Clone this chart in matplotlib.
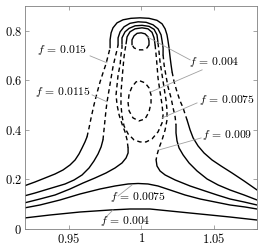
import matplotlib
matplotlib.use("Agg")
import matplotlib.pyplot as plt

plt.rcParams['mathtext.fontset'] = 'cm'
plt.rcParams['font.family'] = ['DejaVu Serif']

# ---- f = 0.015 (outer) ----
f015_left_x = [0.9193, 0.9269, 0.9338, 0.9407, 0.9462, 0.9510, 0.9545, 0.9572, 0.9593, 0.9613, 0.9627]
f015_left_y = [0.1737, 0.1899, 0.2060, 0.2222, 0.2384, 0.2586, 0.2788, 0.3030, 0.3272, 0.3515, 0.3717]
f015_ldash_x = [0.9627, 0.9641, 0.9655, 0.9675, 0.9696, 0.9717, 0.9737, 0.9758, 0.9772, 0.9786]
f015_ldash_y = [0.3717, 0.4080, 0.4484, 0.5010, 0.5494, 0.5939, 0.6302, 0.6666, 0.6989, 0.7312]
f015_top_x = [0.9786, 0.9786, 0.9793, 0.9806, 0.9834, 0.9875, 0.9930, 0.9992, 1.0054, 1.0109,
              1.0144, 1.0165, 1.0178, 1.0185, 1.0192, 1.0199, 1.0206, 1.0213]
f015_top_y = [0.7312, 0.7636, 0.7918, 0.8120, 0.8322, 0.8444, 0.8504, 0.8524, 0.8504, 0.8424,
              0.8282, 0.8080, 0.7838, 0.7595, 0.7312, 0.6949, 0.6626, 0.6343]
f015_rdash_x = [1.0213, 1.0227, 1.0247, 1.0268, 1.0289, 1.0302, 1.0316]
f015_rdash_y = [0.6343, 0.5939, 0.5535, 0.5171, 0.4888, 0.4646, 0.4404]
f015_right_x = [1.0316, 1.0337, 1.0358, 1.0392, 1.0433, 1.0488, 1.0550, 1.0626, 1.0709, 1.0798]
f015_right_y = [0.4404, 0.4000, 0.3676, 0.3353, 0.3070, 0.2788, 0.2545, 0.2262, 0.1939, 0.1576]

# ---- f = 0.0115 ----
f0115_left_x = [0.9193, 0.9269, 0.9338, 0.9407, 0.9476, 0.9538, 0.9593, 0.9641, 0.9675, 0.9703, 0.9724, 0.9737]
f0115_left_y = [0.1333, 0.1454, 0.1576, 0.1697, 0.1818, 0.1980, 0.2182, 0.2464, 0.2747, 0.3030, 0.3313, 0.3596]
f0115_ldash_x = [0.9737, 0.9744, 0.9751, 0.9758, 0.9765, 0.9779, 0.9793, 0.9806, 0.9820, 0.9834, 0.9841]
f0115_ldash_y = [0.3596, 0.4000, 0.4404, 0.4808, 0.5131, 0.5616, 0.6100, 0.6545, 0.6908, 0.7232, 0.7434]
f0115_top_x = [0.9841, 0.9841, 0.9855, 0.9882, 0.9923, 0.9979, 1.0034, 1.0082, 1.0116, 1.0137, 1.0144, 1.0151, 1.0151]
f0115_top_y = [0.7434, 0.7716, 0.7959, 0.8161, 0.8302, 0.8363, 0.8343, 0.8242, 0.8080, 0.7838, 0.7595, 0.7312, 0.7030]
f0115_rdash_x = [1.0151, 1.0158, 1.0171, 1.0185, 1.0206, 1.0220, 1.0234, 1.0240]
f0115_rdash_y = [0.7030, 0.6626, 0.6181, 0.5737, 0.5292, 0.4888, 0.4525, 0.4202]
f0115_right_x = [1.0240, 1.0240, 1.0247, 1.0261, 1.0289, 1.0330, 1.0385, 1.0454, 1.0530, 1.0612, 1.0709, 1.0798]
f0115_right_y = [0.4202, 0.3878, 0.3555, 0.3272, 0.2990, 0.2666, 0.2343, 0.2020, 0.1778, 0.1576, 0.1374, 0.1172]

# ---- f = 0.009 ----
f009_left_x = [0.9193, 0.9303, 0.9407, 0.9510, 0.9600, 0.9682, 0.9758, 0.9820, 0.9868, 0.9896, 0.9910, 0.9910]
f009_left_y = [0.1050, 0.1212, 0.1374, 0.1616, 0.1858, 0.2060, 0.2262, 0.2464, 0.2666, 0.2868, 0.3070, 0.3272]
f009_ldash_x = [0.9910, 0.9903, 0.9889, 0.9868, 0.9848, 0.9834, 0.9827, 0.9834, 0.9841, 0.9855, 0.9861, 0.9868, 0.9868]
f009_ldash_y = [0.3272, 0.3596, 0.3919, 0.4242, 0.4606, 0.5010, 0.5414, 0.5818, 0.6222, 0.6626, 0.7030, 0.7312, 0.7474]
f009_top_x = [0.9868, 0.9868, 0.9889, 0.9917, 0.9958, 1.0006, 1.0054, 1.0089, 1.0109, 1.0116]
f009_top_y = [0.7474, 0.7716, 0.7959, 0.8100, 0.8201, 0.8221, 0.8181, 0.8060, 0.7838, 0.7514]
f009_rdash_x = [1.0116, 1.0123, 1.0130, 1.0144, 1.0158, 1.0171, 1.0178, 1.0178, 1.0165, 1.0144, 1.0123, 1.0109, 1.0103]
f009_rdash_y = [0.7514, 0.7151, 0.6747, 0.6222, 0.5696, 0.5212, 0.4808, 0.4404, 0.4000, 0.3596, 0.3272, 0.2990, 0.2788]
f009_right_x = [1.0103, 1.0109, 1.0130, 1.0165, 1.0234, 1.0337, 1.0440, 1.0523, 1.0612, 1.0709, 1.0798]
f009_right_y = [0.2788, 0.2545, 0.2343, 0.2182, 0.1980, 0.1737, 0.1535, 0.1374, 0.1212, 0.1091, 0.0970]

# ---- f = 0.0075 ----
f0075_top_x = [0.9896, 0.9903, 0.9923, 0.9958, 1.0006, 1.0047, 1.0075, 1.0089, 1.0096]
f0075_top_y = [0.7474, 0.7757, 0.7959, 0.8080, 0.8120, 0.8080, 0.7939, 0.7716, 0.7434]
f0075_loop_x = [1.0096, 1.0103, 1.0109, 1.0116, 1.0130, 1.0144, 1.0151, 1.0144, 1.0116, 1.0075, 1.0034, 0.9992,
                0.9951, 0.9910, 0.9882, 0.9868, 0.9861, 0.9861, 0.9868, 0.9875, 0.9882, 0.9889, 0.9896]
f0075_loop_y = [0.7434, 0.7030, 0.6626, 0.6100, 0.5535, 0.5010, 0.4606, 0.4282, 0.3919, 0.3636, 0.3515, 0.3515,
                0.3596, 0.3838, 0.4161, 0.4565, 0.5010, 0.5494, 0.6020, 0.6504, 0.6949, 0.7232, 0.7474]
f0075_low_x = [0.9193, 0.9303, 0.9441, 0.9579, 0.9717, 0.9820, 0.9910, 0.9979, 1.0047, 1.0116, 1.0199,
               1.0302, 1.0406, 1.0509, 1.0612, 1.0716, 1.0798]
f0075_low_y = [0.0848, 0.0970, 0.1172, 0.1414, 0.1616, 0.1737, 0.1818, 0.1838, 0.1818, 0.1737, 0.1576,
               0.1374, 0.1212, 0.1091, 0.0970, 0.0889, 0.0808]

# ---- f = 0.004 ----
f004_cap_x = [0.9937, 0.9937, 0.9951, 0.9972, 1.0000, 1.0027, 1.0047, 1.0054, 1.0054]
f004_cap_y = [0.7434, 0.7636, 0.7797, 0.7898, 0.7918, 0.7878, 0.7757, 0.7595, 0.7434]
f004_capdash_x = [1.0054, 1.0041, 1.0013, 0.9979, 0.9951, 0.9937]
f004_capdash_y = [0.7434, 0.7312, 0.7232, 0.7232, 0.7312, 0.7434]
f004_egg_x = [0.9992, 1.0027, 1.0054, 1.0068, 1.0068, 1.0054, 1.0027, 0.9985, 0.9944, 0.9917, 0.9910,
              0.9917, 0.9937, 0.9965, 0.9992]
f004_egg_y = [0.5979, 0.5898, 0.5696, 0.5414, 0.5090, 0.4727, 0.4444, 0.4363, 0.4484, 0.4767, 0.5090,
              0.5454, 0.5737, 0.5939, 0.5979]
f004_low_x = [0.9193, 0.9372, 0.9579, 0.9786, 0.9923, 1.0061, 1.0199, 1.0337, 1.0475, 1.0612, 1.0798]
f004_low_y = [0.0444, 0.0566, 0.0687, 0.0768, 0.0808, 0.0808, 0.0727, 0.0646, 0.0566, 0.0485, 0.0364]

# labels: text, left edge of text, leader lines (x0, y0) -> (x1, y1)
label_text = ['0.015', '0.0115', '0.004', '0.0075', '0.009', '0.0075', '0.004']
label_x = [0.9283, 0.9269, 1.0330, 1.0399, 1.0420, 0.9786, 0.9717]
label_y = [0.7232, 0.5535, 0.6747, 0.5212, 0.3798, 0.1293, 0.0323]
leader_x0 = [0.9648, 0.9662, 1.0337, 1.0420, 1.0385, 1.0413, 0.9841, 0.9758]
leader_y0 = [0.6989, 0.5414, 0.6828, 0.6424, 0.5090, 0.3676, 0.1333, 0.0485]
leader_x1 = [0.9765, 0.9765, 1.0041, 1.0068, 1.0144, 1.0123, 0.9937, 0.9806]
leader_y1 = [0.6706, 0.5131, 0.7757, 0.5535, 0.4484, 0.3192, 0.1778, 0.0768]

xticks = [0.95, 1.0, 1.05]
xtick_labels = ['0.95', '1', '1.05']
yticks = [0, 0.2, 0.4, 0.6, 0.8]
ytick_labels = ['0', '0.2', '0.4', '0.6', '0.8']

solid = [(f015_left_x, f015_left_y), (f015_top_x, f015_top_y), (f015_right_x, f015_right_y),
         (f0115_left_x, f0115_left_y), (f0115_top_x, f0115_top_y), (f0115_right_x, f0115_right_y),
         (f009_left_x, f009_left_y), (f009_top_x, f009_top_y), (f009_right_x, f009_right_y),
         (f0075_top_x, f0075_top_y), (f0075_low_x, f0075_low_y),
         (f004_cap_x, f004_cap_y), (f004_low_x, f004_low_y)]
dashed = [(f015_ldash_x, f015_ldash_y), (f015_rdash_x, f015_rdash_y),
          (f0115_ldash_x, f0115_ldash_y), (f0115_rdash_x, f0115_rdash_y),
          (f009_ldash_x, f009_ldash_y), (f009_rdash_x, f009_rdash_y),
          (f0075_loop_x, f0075_loop_y), (f004_capdash_x, f004_capdash_y), (f004_egg_x, f004_egg_y)]

fig = plt.figure(figsize=(2.69, 2.46), dpi=100)
ax = fig.add_axes([0.093, 0.069, 0.8635, 0.9065])

for xs, ys in solid:
    ax.plot(xs, ys, color='black', lw=1.0, solid_capstyle='round')
for xs, ys in dashed:
    ax.plot(xs, ys, color='black', lw=1.0, linestyle=(0, (3.2, 2.4)))

for i in range(len(leader_x0)):
    ax.plot([leader_x0[i], leader_x1[i]], [leader_y0[i], leader_y1[i]], color='#a0a0a0', lw=0.6)

for t, x, y in zip(label_text, label_x, label_y):
    ax.text(x, y, r'$f\,=\,%s$' % t, fontsize=8.4, ha='left', va='center')

ax.set_xlim(0.92, 1.08)
ax.set_ylim(0, 0.9)
ax.set_xticks(xticks, ['$%s$' % s for s in xtick_labels])
ax.set_yticks(yticks, ['$%s$' % s for s in ytick_labels])
ax.tick_params(direction='in', top=True, right=True, length=3, width=0.5, color='#808080',
               labelsize=9, pad=2)
for s in ax.spines.values():
    s.set_color('#808080')
    s.set_linewidth(0.6)

fig.savefig('out.png', dpi=100)
